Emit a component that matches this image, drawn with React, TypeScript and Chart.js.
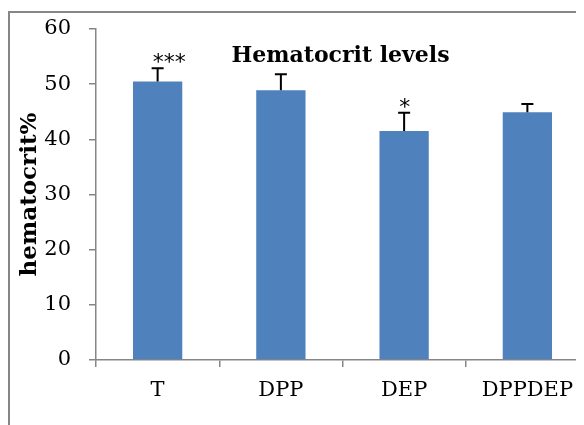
import React, { useEffect, useRef } from "react";
import { Chart, registerables } from "chart.js";

Chart.register(...registerables);

const categories = ["T", "DPP", "DEP", "DPPDEP"];
const values = [50.5, 48.9, 41.5, 44.9];
const errors = [2.4, 2.9, 3.3, 1.5];
const significance = ["***", "", "*", ""];
const yTicks = [0, 10, 20, 30, 40, 50, 60];
const chartTitle = "Hematocrit levels";
const yAxisTitle = "hematocrit%";

const AXIS_COLOR = "#868686";
const BAR_COLOR = "#4F81BD";

const overlayPlugin = {
  id: "overlay",
  afterDatasetsDraw(chart: any) {
    const { ctx, chartArea } = chart;
    const yScale = chart.scales.y;
    const meta = chart.getDatasetMeta(0);
    ctx.save();
    meta.data.forEach((bar: any, i: number) => {
      const x = bar.x;
      const yBar = yScale.getPixelForValue(values[i]);
      const yTop = yScale.getPixelForValue(values[i] + errors[i]);
      ctx.strokeStyle = "#000";
      ctx.lineWidth = 2;
      ctx.beginPath();
      ctx.moveTo(x, yBar);
      ctx.lineTo(x, yTop);
      ctx.moveTo(x - 6, yTop);
      ctx.lineTo(x + 6, yTop);
      ctx.stroke();
      if (significance[i]) {
        ctx.fillStyle = "#000";
        ctx.font = "22px 'DejaVu Sans'";
        ctx.textAlign = "left";
        ctx.textBaseline = "alphabetic";
        const m = ctx.measureText(significance[i]);
        const baseY = yTop - 5 - m.actualBoundingBoxDescent;
        ctx.fillText(significance[i], x - 5, baseY);
      }
    });
    ctx.fillStyle = "#000";
    ctx.font = "bold 22px 'DejaVu Serif'";
    ctx.textAlign = "center";
    ctx.textBaseline = "alphabetic";
    ctx.fillText(chartTitle, (chartArea.left + chartArea.right) / 2 - 2, 54);
    ctx.restore();
  },
};

export default function App() {
  const ref = useRef<HTMLCanvasElement>(null);
  useEffect(() => {
    if (!ref.current) return;
    const chart = new Chart(ref.current, {
      type: "bar",
      data: {
        labels: categories,
        datasets: [
          {
            data: values,
            backgroundColor: BAR_COLOR,
            borderWidth: 0,
            barPercentage: 0.4,
            categoryPercentage: 1,
          },
        ],
      },
      options: {
        animation: false,
        responsive: false,
        devicePixelRatio: 1,
        layout: { padding: { top: 21, left: 0, right: 0, bottom: 0 } },
        plugins: {
          legend: { display: false },
          tooltip: { enabled: false },
          title: { display: false },
        },
        scales: {
          x: {
            grid: {
              display: true,
              drawOnChartArea: false,
              drawTicks: true,
              tickLength: 7,
              color: AXIS_COLOR,
              lineWidth: 1.5,
              offset: true,
            },
            border: { display: true, color: AXIS_COLOR, width: 1.5 },
            ticks: {
              color: "#000",
              font: { family: "'DejaVu Serif'", size: 21 },
              padding: 11,
              maxRotation: 0,
              autoSkip: false,
            },
            afterFit(scale: any) {
              scale.height = 65;
              scale.paddingLeft = 0;
              scale.paddingRight = 0;
            },
          },
          y: {
            min: 0,
            max: 60,
            afterBuildTicks(scale: any) {
              scale.ticks = yTicks.map((v) => ({ value: v }));
            },
            grid: {
              display: true,
              drawOnChartArea: false,
              drawTicks: true,
              tickLength: 7,
              color: AXIS_COLOR,
              lineWidth: 1.5,
            },
            border: { display: true, color: AXIS_COLOR, width: 1.5 },
            ticks: {
              color: "#000",
              font: { family: "'DejaVu Serif'", size: 21 },
              padding: 18,
            },
            title: {
              display: true,
              text: yAxisTitle,
              color: "#000",
              font: { family: "'DejaVu Serif'", size: 23, weight: "bold" },
              padding: { top: 8, bottom: 0 },
            },
            afterFit(scale: any) {
              scale.width = 88;
              scale.paddingTop = 0;
              scale.paddingBottom = 0;
            },
          },
        },
      },
      plugins: [overlayPlugin],
    });
    return () => chart.destroy();
  }, []);

  return (
    <div style={{ position: "relative", width: 576, height: 417, overflow: "hidden" }}>
      <div
        style={{
          position: "absolute",
          left: 0,
          top: 3,
          width: 1000,
          height: 1000,
          borderTop: `2px solid ${AXIS_COLOR}`,
          borderLeft: `2px solid ${AXIS_COLOR}`,
          boxSizing: "border-box",
        }}
      />
      <canvas
        ref={ref}
        width={581}
        height={417}
        style={{ position: "absolute", left: 0, top: 0 }}
      />
    </div>
  );
}
